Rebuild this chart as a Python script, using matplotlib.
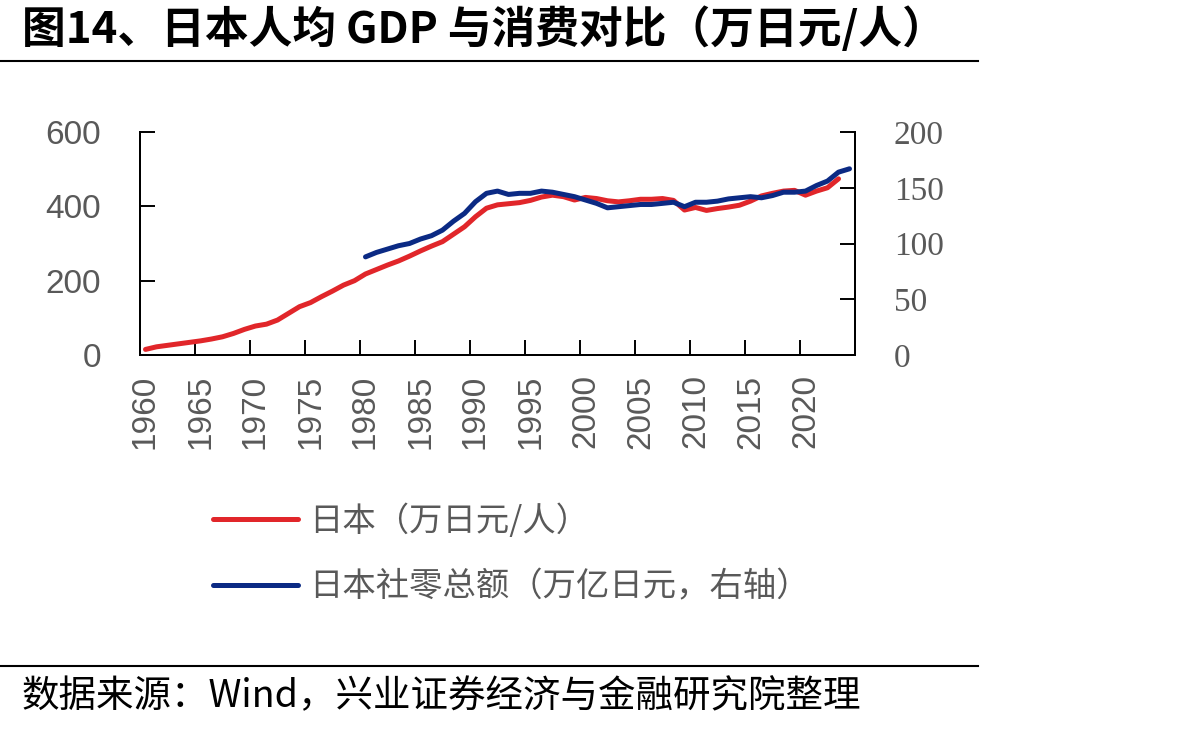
import numpy as np
import matplotlib
matplotlib.use('Agg')
from matplotlib import pyplot as plt
from matplotlib.lines import Line2D
from matplotlib.ticker import FixedLocator

years = np.arange(1960, 2025)

# 日本人均GDP (万日元/人), 1960-2023
gdp = [15, 22, 26, 30, 34, 38, 43, 49, 58, 69,
       78, 83, 94, 112, 130, 141, 157, 172, 188, 200,
       218, 230, 242, 253, 266, 280, 293, 305, 325, 345,
       372, 395, 404, 407, 410, 416, 425, 430, 426, 417,
       424, 421, 415, 412, 415, 419, 419, 421, 416, 390,
       397, 389, 394, 398, 403, 414, 428, 435, 441, 443,
       430, 441, 450, 474]

# 日本社零总额 (万亿日元), 1980-2024
retail = [88, 92, 95, 98, 100, 104, 107, 112, 120, 127,
          137.5, 145, 147, 144, 145, 145, 147, 146, 144, 142,
          139, 136, 132, 133, 134, 135, 135, 136, 137, 133,
          137, 137, 138, 140, 141, 142, 141, 143, 146, 146,
          147, 152, 156, 164, 167]

label_years = list(range(1960, 2021, 5))
left_ticks = [0, 200, 400, 600]
right_ticks = [0, 50, 100, 150, 200]

title = '图14、日本人均 GDP 与消费对比（万日元/人）'
source = '数据来源：Wind，兴业证券经济与金融研究院整理'
name_gdp = '日本（万日元/人）'
name_retail = '日本社零总额（万亿日元，右轴）'

RED = '#E1262A'
BLUE = '#0B2A84'
GRAY = '#595959'
CJK = ['Noto Sans CJK SC', 'DejaVu Sans']

W, H = 1192, 732
fig = plt.figure(figsize=(W / 100, H / 100), dpi=100)
fig.patch.set_facecolor('white')

ax = fig.add_axes([140 / W, 1 - 355 / H, 715 / W, 223 / H])
ax2 = ax.twinx()

l1, = ax.plot(years[:len(gdp)], gdp, color=RED, lw=3.6, solid_capstyle='round')
l2, = ax2.plot(years[len(years) - len(retail):], retail, color=BLUE, lw=3.6,
               solid_capstyle='round')

ax.set_xlim(1959.5, 2024.5)
ax.set_ylim(0, 600)
ax2.set_ylim(0, 200)

ax.set_yticks(left_ticks)
ax2.set_yticks(right_ticks)
ax.set_xticks(label_years)
ax.set_xticklabels([str(y) for y in label_years], rotation=90)
ax.xaxis.set_minor_locator(FixedLocator(np.arange(1959.5, 2025, 5)))

ax.tick_params(axis='x', which='major', length=0, pad=14, labelsize=24,
               labelcolor=GRAY)
ax.tick_params(axis='x', which='minor', direction='in', length=11, width=1.4)
ax.tick_params(axis='y', direction='in', length=11, width=1.4, pad=28,
               labelsize=24, labelcolor=GRAY)
ax2.tick_params(axis='y', direction='in', length=11, width=1.4, pad=28,
                labelsize=24, labelcolor=GRAY)
for lab in ax.get_xticklabels() + ax.get_yticklabels():
    lab.set_fontfamily('Liberation Sans')
for lab in ax2.get_yticklabels():
    lab.set_fontfamily('Liberation Serif')

for a in (ax, ax2):
    a.spines['top'].set_visible(False)
    for s in ('left', 'right', 'bottom'):
        a.spines[s].set_linewidth(1.4)
        a.spines[s].set_color('black')
ax.patch.set_visible(False)

leg = fig.legend([l1, l2], [name_gdp, name_retail], loc='upper left',
                 bbox_to_anchor=(183 / W, 1 - 474 / H), frameon=False,
                 handlelength=2.55, handletextpad=0.32, labelspacing=0.92,
                 prop={'family': CJK, 'size': 24})
for t in leg.get_texts():
    t.set_color(GRAY)

fig.text(22 / W, 1 - 29 / H, title, fontsize=31.5, fontweight='bold',
         family=CJK, va='center', ha='left', color='black')
fig.text(22 / W, 1 - 697 / H, source, fontsize=27, family=CJK,
         va='center', ha='left', color='black')

fig.add_artist(Line2D([0, 978 / W], [1 - 61 / H] * 2, transform=fig.transFigure,
                      color='black', lw=1.5))
fig.add_artist(Line2D([0, 978 / W], [1 - 666 / H] * 2, transform=fig.transFigure,
                      color='black', lw=1.5))

fig.savefig('out.png', dpi=100, facecolor='white')
